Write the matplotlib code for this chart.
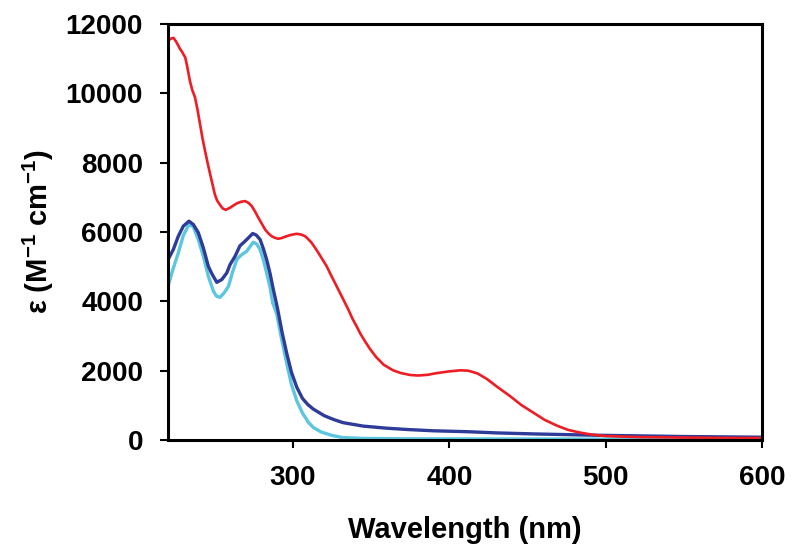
import numpy as np
import matplotlib
matplotlib.use('Agg')
import matplotlib.pyplot as plt

plt.rcParams['font.family'] = ['Liberation Sans', 'DejaVu Sans']
plt.rcParams['font.weight'] = 'bold'
plt.rcParams['mathtext.fontset'] = 'custom'
plt.rcParams['mathtext.rm'] = 'Liberation Sans:bold'
plt.rcParams['mathtext.it'] = 'Liberation Sans:bold'
plt.rcParams['mathtext.bf'] = 'Liberation Sans:bold'
plt.rcParams['mathtext.default'] = 'rm'

# red spectrum
wl_red = [220, 222, 223.5, 225.5, 227.7, 229, 229.8, 231, 232, 234, 235.5, 237.3, 239, 240.5,
          242, 243.7, 245.5, 247, 248.5, 250, 251.5, 253.3, 255, 257, 259.7, 262, 264, 266.5,
          269.3, 271.5, 273.6, 275.7, 277.8, 280, 282.1, 284.2, 286.3, 288.5, 290.6, 293, 295.9,
          299, 302.3, 305, 307.7, 310, 311.9, 314, 316.2, 318.8, 321.5, 324, 326.8, 329.5, 332.2,
          335.4, 338, 341, 343, 346, 349, 353, 358, 364, 369, 375, 380, 386, 392, 400, 407, 412,
          418, 424, 431, 439, 446, 454, 461, 469, 476, 484, 492, 500, 520, 550, 575, 600]
eps_red = [11520, 11580, 11600, 11470, 11280, 11200, 11130, 11040, 10840, 10360, 10100, 9880, 9500, 9110,
           8720, 8340, 7960, 7660, 7370, 7080, 6900, 6780, 6680, 6640, 6700, 6770, 6825, 6870,
           6892, 6840, 6747, 6590, 6411, 6240, 6073, 5960, 5879, 5830, 5804, 5830, 5879,
           5920, 5948, 5930, 5879, 5780, 5688, 5550, 5399, 5210, 5012, 4780, 4531, 4290, 4049,
           3759, 3500, 3250, 3070, 2850, 2640, 2400, 2170, 2010, 1930, 1875, 1860, 1880, 1930, 1980, 2010, 2000,
           1920, 1760, 1520, 1260, 1010, 780, 580, 410, 290, 210, 150, 115, 85, 70, 60, 55]

# dark blue spectrum
wl_blue = [220, 223.4, 226.6, 229.8, 233.4, 236.2, 239.4, 242.6, 245.8, 248, 251.2, 254.4, 257.6,
           259.7, 262.9, 266, 268.2, 270.4, 272.5, 274.2, 276.5, 278.9, 281, 283.1, 285.3, 287.4,
           290, 293, 296, 299, 302.4, 306, 309.5, 313, 320, 326, 332, 345, 360, 374, 390, 411,
           430, 454, 475, 497, 550, 600]
eps_blue = [5200, 5494, 5880, 6169, 6313, 6217, 5980, 5543, 5010, 4800, 4549, 4627, 4820,
            5060, 5300, 5600, 5690, 5784, 5880, 5957, 5910, 5784, 5520, 5205, 4800, 4338,
            3808, 3100, 2490, 1950, 1520, 1200, 1020, 890, 700, 590, 500, 400, 340, 300, 265, 240,
            205, 175, 155, 135, 100, 80]

# cyan spectrum
wl_cyan = [220, 223, 226.6, 229.8, 233.4, 236.2, 239.4, 242.6, 245.8, 249, 251, 253.3, 256, 258.7,
           261, 264, 266, 268.2, 270.4, 272.5, 274.6, 276.8, 278.9, 281, 283.1, 285.3, 287,
           289.5, 292.5, 296, 299, 302.4, 306, 310, 313, 318, 325, 332, 345, 370, 420, 500, 600]
eps_cyan = [4430, 4900, 5400, 5900, 6217, 6150, 5784, 5300, 4723, 4300, 4150, 4115, 4250, 4433,
            4800, 5205, 5301, 5380, 5446, 5580, 5706, 5650, 5495, 5200, 4820, 4400, 3953,
            3650, 2950, 2200, 1600, 1130, 780, 500, 360, 230, 130, 70, 45, 35, 30, 25, 20]

fig = plt.figure(figsize=(8, 5.6), dpi=100)
ax = fig.add_axes([0.21, 0.2143, 0.7425, 0.7428])

ax.plot(wl_cyan, eps_cyan, color='#5cc6df', lw=2.4, solid_joinstyle='round')
ax.plot(wl_blue, eps_blue, color='#2e3b98', lw=2.4, solid_joinstyle='round')
ax.plot(wl_red, eps_red, color='#ee1d24', lw=1.9, solid_joinstyle='round')

ax.set_xlim(220, 600)
ax.set_ylim(0, 12000)
ax.set_xticks([300, 400, 500, 600])
ax.set_yticks(np.arange(0, 12001, 2000))

for sp in ax.spines.values():
    sp.set_linewidth(2.2)
ax.tick_params(direction='out', length=6, width=1.5, labelsize=20, pad=12)

ax.set_xlabel('Wavelength (nm)', fontsize=21, fontweight='bold', labelpad=18)
ax.set_ylabel('ε (M$^{-1}$ cm$^{-1}$)', fontsize=21, fontweight='bold', labelpad=7)

fig.savefig('out.png', dpi=100)
